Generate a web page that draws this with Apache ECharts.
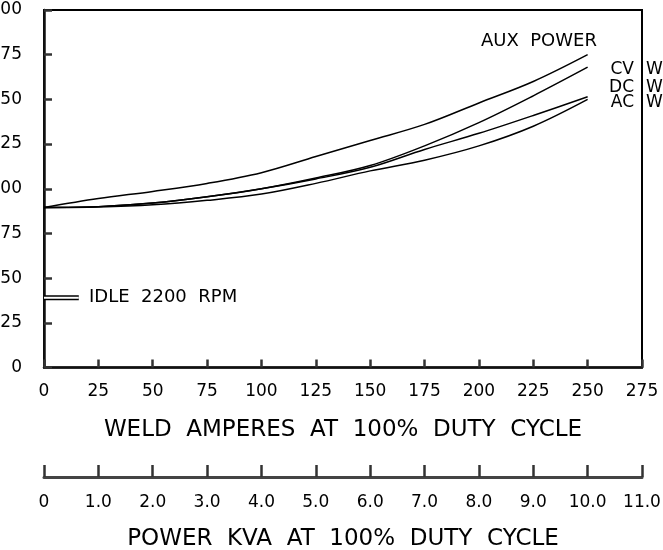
<!DOCTYPE html>
<html>
<head>
<meta charset="utf-8">
<script src="https://cdn.jsdelivr.net/npm/echarts@6/dist/echarts.min.js"></script>
<style>
html,body{margin:0;padding:0;background:#fff;}
#chart{width:663px;height:550px;}
</style>
</head>
<body>
<div id="chart"></div>
<script>
// ---- data ----
const amps = [0, 25, 50, 75, 100, 125, 150, 175, 200, 225, 250];
const auxPower = [89.5, 94.5, 98.5, 103, 109, 118, 127, 136, 148, 160, 175];
const cvWeld  = [89.5, 90, 92, 95.5, 100, 106, 113, 124, 137, 152, 168];
const dcWeld  = [89.5, 90, 92, 95.5, 100, 105.5, 112, 122, 131, 141, 151.5];
const acWeld  = [89.5, 89.8, 91, 93.5, 97, 103, 110, 116, 124, 135, 150];
const idleAmps = [0, 16];
const idleValue = 39;
const xTickLabels = ['0','25','50','75','100','125','150','175','200','225','250','275'];
const yTickLabels = ['0','25','50','75','100','125','150','175','200'];
const kvaTickLabels = ['0','1.0','2.0','3.0','4.0','5.0','6.0','7.0','8.0','9.0','10.0','11.0'];
const xTitle = 'WELD  AMPERES  AT  100%  DUTY  CYCLE';
const kvaTitle = 'POWER  KVA  AT  100%  DUTY  CYCLE';

const FONT = 'DejaVu Sans';
const pair = (xs, ys) => xs.map((x, i) => [x, ys[i]]);
const lineSeries = (name, ys) => ({
  name, type: 'line', xAxisIndex: 0, yAxisIndex: 0,
  data: pair(amps, ys), smooth: 0.35, showSymbol: false,
  lineStyle: {color: '#000', width: 1.5}, z: 3
});

const chart = echarts.init(document.getElementById('chart'), null, {renderer: 'canvas'});
chart.setOption({
  animation: false,
  backgroundColor: '#fff',
  grid: [
    {left: 44, right: 21, top: 10, bottom: 182.5, show: true, borderColor: '#000', borderWidth: 2,
      backgroundColor: 'transparent', containLabel: false, outerBoundsMode: 'none'},
    {left: 44, right: 21, top: 400, bottom: 73, containLabel: false, outerBoundsMode: 'none'}
  ],
  xAxis: [
    {
      type: 'value', gridIndex: 0, min: 0, max: 275, interval: 25,
      axisLine: {lineStyle: {color: '#111', width: 2.5}},
      axisTick: {inside: true, length: 8, lineStyle: {color: '#333', width: 2.5}},
      splitLine: {show: false},
      axisLabel: {margin: 16, fontFamily: FONT, fontSize: 17, color: '#000',
        formatter: v => xTickLabels[Math.round(v / 25)]},
      name: xTitle, nameLocation: 'middle', nameGap: 51,
      nameTextStyle: {fontFamily: FONT, fontSize: 23, color: '#000'}
    },
    {
      type: 'value', gridIndex: 1, min: 0, max: 11, interval: 1,
      axisLine: {lineStyle: {color: '#444', width: 3}},
      axisTick: {inside: true, length: 12, lineStyle: {color: '#333', width: 2.5}},
      splitLine: {show: false},
      axisLabel: {margin: 17, fontFamily: FONT, fontSize: 17, color: '#000',
        formatter: v => kvaTickLabels[Math.round(v)]},
      name: kvaTitle, nameLocation: 'middle', nameGap: 51,
      nameTextStyle: {fontFamily: FONT, fontSize: 23, color: '#000'}
    }
  ],
  yAxis: [
    {
      type: 'value', gridIndex: 0, min: 0, max: 200, interval: 25,
      axisLine: {show: true, lineStyle: {color: '#111', width: 2.5}},
      axisTick: {show: true, inside: true, length: 8, lineStyle: {color: '#333', width: 2.5}},
      splitLine: {show: false},
      axisLabel: {margin: 22, fontFamily: FONT, fontSize: 17, color: '#000',
        formatter: v => yTickLabels[Math.round(v / 25)]}
    },
    {type: 'value', gridIndex: 1, min: 0, max: 1, show: false}
  ],
  series: [
    lineSeries('AUX POWER', auxPower),
    lineSeries('CV WELD', cvWeld),
    lineSeries('DC WELD', dcWeld),
    lineSeries('AC WELD', acWeld),
    {type: 'line', xAxisIndex: 0, yAxisIndex: 0, data: pair(idleAmps, idleAmps.map(() => idleValue)),
      showSymbol: false, lineStyle: {color: '#000', width: 5}, z: 4},
    {type: 'line', xAxisIndex: 0, yAxisIndex: 0, data: pair(idleAmps, idleAmps.map(() => idleValue)),
      showSymbol: false, lineStyle: {color: '#fff', width: 2}, z: 5}
  ],
  graphic: [
    {type: 'text', left: 481, top: 32, style: {text: 'AUX  POWER', font: '18px "DejaVu Sans"', fill: '#000'}},
    {type: 'text', left: 89, top: 288, style: {text: 'IDLE  2200  RPM', font: '18px "DejaVu Sans"', fill: '#000'}},
    {type: 'text', right: 663 - 634, top: 61, style: {text: 'CV', font: '17px "DejaVu Sans"', fill: '#000'}},
    {type: 'text', right: 663 - 634, top: 79, style: {text: 'DC', font: '17px "DejaVu Sans"', fill: '#000'}},
    {type: 'text', right: 663 - 634, top: 94, style: {text: 'AC', font: '17px "DejaVu Sans"', fill: '#000'}},
    {type: 'text', left: 646, top: 61, style: {text: 'W', font: '17px "DejaVu Sans"', fill: '#000'}},
    {type: 'text', left: 646, top: 79, style: {text: 'W', font: '17px "DejaVu Sans"', fill: '#000'}},
    {type: 'text', left: 646, top: 94, style: {text: 'W', font: '17px "DejaVu Sans"', fill: '#000'}}
  ]
});
</script>
</body>
</html>
